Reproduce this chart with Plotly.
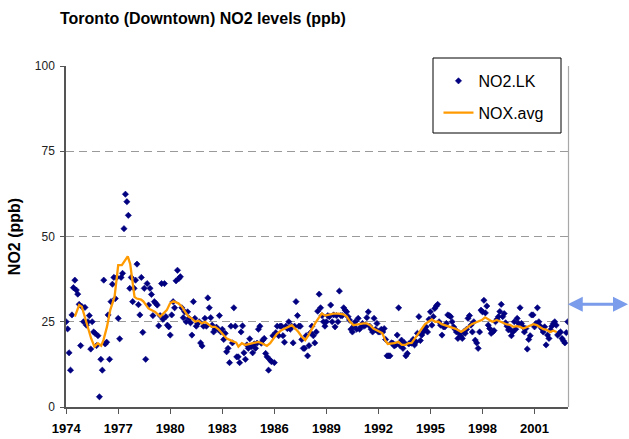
import plotly.graph_objects as go

# Monthly NO2 readings (ppb), Jan 1974 - Dec 2002, one row per year
no2_1974 = [25, 22.9, 15.9, 10.8, 27, 35, 37.2, 34.3, 33.1, 30.1, 18, 29.4]
no2_1975 = [25, 29.2, 24, 25, 26.8, 17, 25, 22, 21.6, 18, 20.9, 3]
no2_1976 = [14, 10.8, 37.2, 18.5, 19, 27, 14, 30.9, 36, 38, 31.8, 38]
no2_1977 = [26, 20, 38, 39.2, 52.3, 62.4, 60.2, 56.2, 34.8, 38, 30.9, 34.8]
no2_1978 = [37.2, 41.9, 30, 27, 38, 21.9, 34.8, 14, 36.2, 29.9, 34.8, 33]
no2_1979 = [26.8, 30.9, 30.4, 29.9, 23.8, 26.8, 36.2, 25.7, 36.2, 26.5, 24, 23.5]
no2_1980 = [21.1, 27, 30.9, 29.1, 37, 40.1, 37.7, 38.2, 29.1, 26.2, 27.9, 25]
no2_1981 = [27.9, 26, 24.7, 21.1, 30.9, 26, 23.7, 24.5, 25, 18.8, 17.9, 23.7]
no2_1982 = [26, 23.7, 32, 29.1, 26.2, 24, 22, 22.8, 23.4, 22.8, 26.8, 22]
no2_1983 = [22.8, 19.8, 21.6, 16.2, 17.2, 13, 23.7, 18.8, 29.1, 23.7, 14.7, 14.7]
no2_1984 = [13, 22, 23.8, 15.9, 14, 18.2, 17.2, 20, 17.7, 15.9, 18.5, 17.2]
no2_1985 = [18.7, 22.8, 23.7, 18.7, 19.6, 20.1, 15.7, 14.7, 10.8, 13.8, 13.3, 20.9]
no2_1986 = [13, 21.8, 23.7, 20.9, 23.7, 23.7, 20.9, 19, 23.7, 23, 25, 22.8]
no2_1987 = [23.7, 18.8, 23.7, 30.9, 26.8, 23.7, 23.7, 19.8, 17.2, 17.2, 20.9, 15]
no2_1988 = [18, 21.8, 23.7, 20.9, 18.8, 22, 28.1, 33.1, 29.1, 26.8, 25, 23.7]
no2_1989 = [25, 26.8, 26.5, 29.9, 25, 27, 23.5, 26.8, 25, 34, 26.8, 26.8]
no2_1990 = [29.1, 28.4, 27.9, 26.5, 25.5, 22.8, 22, 23.7, 25, 22.8, 26, 22.8]
no2_1991 = [23.5, 24.5, 23.7, 24, 26.2, 27.9, 23.7, 22.8, 22, 26, 22.8, 24.5]
no2_1992 = [22, 22, 22.8, 22, 23, 19.8, 15, 15, 15, 18.8, 18.7, 17.9]
no2_1993 = [18.2, 21.1, 29.1, 18, 19.6, 17.2, 18.8, 15, 15.7, 18.5, 18.8, 18.7]
no2_1994 = [19.8, 18.2, 19.1, 21.6, 26.5, 19.5, 21.1, 22, 22.8, 23.5, 22, 25.7]
no2_1995 = [27.9, 24, 26.5, 28.9, 29.6, 30.1, 25, 24, 21.1, 23.5, 23.5, 24.5]
no2_1996 = [27, 26.8, 26.5, 25, 23.5, 22.8, 22, 20.1, 21.6, 20.8, 20.1, 22]
no2_1997 = [21.6, 22.8, 26, 26.8, 24, 22, 25, 19.6, 18.8, 17.2, 22, 28.4]
no2_1998 = [27.9, 31.3, 27.6, 29.6, 24, 23, 21.6, 22, 22.4, 25, 25.7, 26.5]
no2_1999 = [28, 30.1, 26.5, 27.4, 24.7, 23.7, 22.6, 22.8, 20.9, 22, 25, 22.8]
no2_2000 = [26, 24.5, 29.1, 24.5, 23.5, 22, 23, 17, 19.8, 20.9, 27, 27]
no2_2001 = [23.5, 24.5, 29.1, 25, 23.7, 23, 22, 23.5, 18.2, 21.1, 20.1, 22.6]
no2_2002 = [23.7, 24.5, 25, 24, 21.1, 21.6, 22, 20.1, 19.4, 18.8, 21.8, 25]

no2_by_year = [no2_1974, no2_1975, no2_1976, no2_1977, no2_1978, no2_1979,
               no2_1980, no2_1981, no2_1982, no2_1983, no2_1984, no2_1985,
               no2_1986, no2_1987, no2_1988, no2_1989, no2_1990, no2_1991,
               no2_1992, no2_1993, no2_1994, no2_1995, no2_1996, no2_1997,
               no2_1998, no2_1999, no2_2000, no2_2001, no2_2002]
first_year = 1974

# NOX.avg curve (decimal year, ppb)
nox_time = [1974.5, 1974.75, 1974.9, 1975.1, 1975.29, 1975.44, 1975.63, 1975.83,
            1976.02, 1976.15, 1976.35, 1976.54, 1976.79, 1977.0, 1977.21, 1977.4,
            1977.55, 1977.69, 1977.82, 1977.94, 1978.07, 1978.32, 1978.46, 1978.59,
            1978.74, 1978.94, 1979.13, 1979.42, 1979.61, 1979.8, 1979.99, 1980.18,
            1980.47, 1980.67, 1980.86, 1981.05, 1981.24, 1981.44, 1981.63, 1981.82,
            1982.01, 1982.2, 1982.4, 1982.59, 1982.78, 1983.07, 1983.26, 1983.55,
            1983.8, 1983.93, 1984.13, 1984.32, 1984.61, 1984.89, 1985.08, 1985.28,
            1985.57, 1985.76, 1985.95, 1986.14, 1986.43, 1986.62, 1986.81, 1987.01,
            1987.2, 1987.39, 1987.58, 1987.78, 1987.97, 1988.16, 1988.35, 1988.54,
            1988.74, 1988.93, 1989.22, 1989.41, 1989.7, 1989.98, 1990.18, 1990.37,
            1990.56, 1990.85, 1991.14, 1991.33, 1991.52, 1991.71, 1991.91, 1992.1,
            1992.23, 1992.39, 1992.54, 1992.73, 1992.92, 1993.15, 1993.35, 1993.54,
            1993.73, 1993.92, 1994.12, 1994.31, 1994.5, 1994.69, 1994.88, 1995.08,
            1995.27, 1995.46, 1995.65, 1995.84, 1996.03, 1996.23, 1996.42, 1996.58,
            1996.77, 1997.0, 1997.19, 1997.38, 1997.57, 1997.76, 1997.96, 1998.15,
            1998.34, 1998.57, 1998.82, 1999.01, 1999.2, 1999.4, 1999.59, 1999.78,
            1999.97, 2000.17, 2000.36, 2000.55, 2000.74, 2000.94, 2001.13, 2001.32,
            2001.51, 2001.71, 2001.9, 2002.09, 2002.28]
nox_avg = [26.5, 29.9, 29.4, 26, 23, 20.1, 17.7, 18.7,
           18, 19.6, 23.5, 28.4, 32.3, 41.6, 41.6, 43,
           44.2, 42, 37.2, 32.3, 31.8, 31.5, 30.9, 29.9,
           28.9, 28.4, 27.9, 26.5, 27.4, 28.4, 30.4, 31,
           30.4, 29.4, 27.9, 26.5, 26, 25, 25.3, 24.5,
           25, 24.3, 23.5, 23.5, 22.8, 21.1, 20.1, 19.4,
           18.9, 17.7, 18.7, 18.2, 18.5, 18.7, 19.1, 18.7,
           17.9, 18.7, 20.1, 21.4, 22.6, 23, 23.5, 24,
           23, 22, 20.6, 19.6, 21.1, 23, 24.5, 26,
           27.4, 26.8, 27.1, 27.4, 27.4, 27.2, 26.5, 25,
           24, 24.3, 24.5, 24.5, 24, 23, 22.6, 22,
           21.6, 19.6, 18.5, 18.5, 18.7, 19.1, 18.2, 18.2,
           18.7, 18.8, 20.2, 21.6, 23, 24.3, 25, 25.7,
           25, 25, 24.3, 24, 23.7, 23.5, 23, 22.6,
           22, 22.8, 23.5, 24.3, 24.7, 25, 25.5, 26.3,
           25.7, 25, 25.5, 25.1, 24.7, 24.2, 24.1, 23.5,
           23.7, 23.5, 23, 23.5, 24, 24.3, 24, 23.5,
           22.8, 22.6, 22, 22.4, 22]

year_ticks = [1974, 1977, 1980, 1983, 1986, 1989, 1992, 1995, 1998, 2001]
y_ticks = [0, 25, 50, 75, 100]

no2_time = []
no2_vals = []
for k, row in enumerate(no2_by_year):
    for m, v in enumerate(row):
        no2_time.append(first_year + k + m / 12.0)
        no2_vals.append(v)

FONT = "Arial, 'Liberation Sans', sans-serif"

fig = go.Figure()
fig.add_trace(go.Scatter(
    x=no2_time, y=no2_vals, mode="markers", name="NO2.LK",
    marker=dict(symbol="diamond", size=4.8, color="#000080",
                line=dict(width=0.6, color="#000080")),
    legendgroup="a",
))
fig.add_trace(go.Scatter(
    x=nox_time, y=nox_avg, mode="lines", name="NOX.avg",
    line=dict(color="#FF9A00", width=2.3),
    legendgroup="b",
))

fig.update_layout(
    width=629, height=439,
    margin=dict(l=66, r=61, t=66, b=32),
    paper_bgcolor="white", plot_bgcolor="white",
    font=dict(family=FONT, color="black"),
    title=dict(text="Toronto (Downtown) NO2 levels (ppb)",
               font=dict(family=FONT, size=16, weight="bold", color="black"),
               xref="container", x=60 / 629, xanchor="left",
               yref="container", y=1 - 18 / 439, yanchor="middle"),
    showlegend=True,
    legend=dict(x=0.742, xanchor="left", y=1.006, yanchor="top",
                bgcolor="rgba(0,0,0,0)", borderwidth=0,
                font=dict(family=FONT, size=16, color="black"),
                tracegroupgap=8, itemwidth=30),
    xaxis=dict(range=[1973.99, 2002.93], tickmode="array", tickvals=year_ticks,
               ticktext=[str(v) for v in year_ticks],
               showgrid=False, zeroline=False, automargin=False,
               showline=True, linecolor="#555555", linewidth=1.5,
               ticks="outside", ticklen=5, tickwidth=1, tickcolor="#555555",
               tickfont=dict(family=FONT, size=13, weight="bold", color="black"),
               ticklabelstandoff=4),
    yaxis=dict(range=[0, 100], tickmode="array", tickvals=y_ticks,
               showgrid=True, gridcolor="#9a9a9a", gridwidth=1, griddash="8px,5px",
               zeroline=False, automargin=False,
               showline=True, linecolor="#555555", linewidth=1.5,
               ticks="outside", ticklen=4, tickwidth=1, tickcolor="#555555",
               tickfont=dict(family=FONT, size=12, color="#222222"),
               ticklabelstandoff=3,
               title=dict(text="NO2 (ppb)", standoff=10,
                          font=dict(family=FONT, size=16, weight="bold", color="black"))),
    shapes=[
        dict(type="line", xref="paper", yref="paper", x0=1.001, x1=1.001, y0=0, y1=1,
             line=dict(color="#a8a8a8", width=1.2)),
        dict(type="rect", xref="paper", yref="paper",
             x0=(433 - 66) / 502, x1=(561 - 66) / 502,
             y0=(407 - 133) / 341, y1=(407 - 58) / 341,
             fillcolor="white", line=dict(color="black", width=1), layer="above"),
    ],
    annotations=[
        dict(x=1.122, y=30.1, xref="paper", yref="y", text="", showarrow=True,
             ax=-63, ay=0, axref="pixel", ayref="pixel",
             arrowside="end+start", arrowhead=2, arrowsize=1, arrowwidth=3,
             arrowcolor="#7B9CEB", standoff=0, startstandoff=0),
    ],
)

fig.write_html("out.html", config={"displayModeBar": False},
               post_script="document.body.style.margin='0';document.body.style.padding='0';")
